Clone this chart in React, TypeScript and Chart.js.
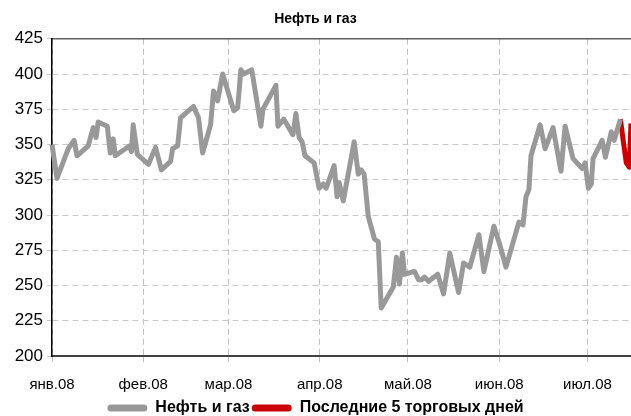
import React, { useEffect, useRef } from "react";
import { Chart, registerables } from "chart.js";

Chart.register(...registerables);

// Day offsets from 1 Jan 2008 and values of the index
const days = [
  0, 1.7, 5.5, 7.5, 8.5, 12.3, 14.0, 15.0, 15.7, 18.8, 19.8, 20.8, 21.5, 26.3, 27.0, 27.6, 29.0,
  32.8, 35.2, 37.2, 40.3, 41.0, 42.7, 43.7, 48.1, 49.8, 51.2, 53.9, 54.9, 56.3, 58.0,
  61.8, 63.1, 64.2, 65.2, 67.9, 71.0, 71.7, 76.1, 76.8, 78.8, 81.9, 82.9, 84.0, 85.0, 86.0, 89.1,
  90.8, 92.2, 93.2, 95.9, 96.9, 97.6, 99.0, 102.7, 104.1, 105.1, 106.1, 107.5, 109.6, 110.9, 111.9,
  116.0, 117.1, 118.1, 119.1, 119.8, 123.2, 124.6, 125.6, 126.6, 128.0, 131.1, 133.1, 135.2, 138.2,
  139.9, 142.0, 145.1, 146.8, 150.2, 152.2, 154.3, 158.7, 160.1, 161.1, 162.1, 162.8, 165.9, 167.6,
  170.3, 173.0, 174.4, 177.1, 180.2, 181.2, 182.3, 183.3, 183.9, 187.0, 188.1, 190.1, 191.1, 193.2,
];
const oilGas = [
  350, 326, 347, 353, 342, 349, 362, 355, 366, 363, 344, 354, 342, 349, 345, 364, 343,
  336, 348, 332, 338, 347, 349, 369, 377, 369, 344, 364, 388, 381, 400,
  374, 376, 403, 400, 403, 363, 375, 392, 363, 368, 357, 372, 355, 352, 342, 337,
  319, 322, 319, 335, 313, 323, 310, 352, 329, 332, 329, 299, 283, 281, 234,
  249, 270, 251, 273, 258, 260, 254, 254, 256, 253, 258, 244, 273, 245,
  266, 263, 286, 260, 292, 279, 263, 295, 293, 313, 318, 342, 364, 347,
  362, 331, 363, 340, 333, 337, 319, 322, 340, 353, 341, 359, 353, 368,
];
const lastDays = [193.2, 194.2, 195.2, 196.2, 196.8];
const lastValues = [368, 352, 337, 334, 365];

const monthStarts = [0, 31, 60, 91, 121, 152, 182];
const monthLabels = ["янв.08", "фев.08", "мар.08", "апр.08", "май.08", "июн.08", "июл.08"];
const yTicks = [200, 225, 250, 275, 300, 325, 350, 375, 400, 425];

const seriesNames = ["Нефть и газ", "Последние 5 торговых дней"];
const seriesColors = ["#999999", "#cc0000"];

const FONT = "'Liberation Sans', Arial, sans-serif";

export default function App() {
  const ref = useRef<HTMLCanvasElement | null>(null);

  useEffect(() => {
    document.body.style.margin = "0";
    const canvas = ref.current;
    if (!canvas) return;
    const xMax = lastDays[lastDays.length - 1];
    const chart = new Chart(canvas, {
      type: "line",
      data: {
        datasets: [
          {
            label: seriesNames[0],
            data: days.map((d, i) => ({ x: d, y: oilGas[i] })),
            borderColor: seriesColors[0],
            backgroundColor: seriesColors[0],
            borderWidth: 5,
            pointRadius: 0,
            tension: 0,
            borderJoinStyle: "round",
          },
          {
            label: seriesNames[1],
            data: lastDays.map((d, i) => ({ x: d, y: lastValues[i] })),
            borderColor: seriesColors[1],
            backgroundColor: seriesColors[1],
            borderWidth: 5,
            pointRadius: 0,
            tension: 0,
            borderJoinStyle: "round",
          },
        ],
      },
      options: {
        responsive: false,
        animation: false,
        clip: false as any,
        layout: { padding: { left: 0, right: 0, top: 0, bottom: -10 } },
        plugins: {
          title: {
            display: true,
            text: "Нефть и газ",
            color: "#000",
            font: { family: FONT, size: 14, weight: "bold" },
            padding: { top: 11, bottom: 11 },
          },
          legend: {
            position: "bottom",
            labels: {
              color: "#000",
              font: { family: FONT, size: 16, weight: "bold" },
              boxWidth: 40,
              boxHeight: 7,
              padding: 2,
              generateLabels: (c: any) =>
                c.data.datasets.map((ds: any, i: number) => ({
                  text: ds.label,
                  fillStyle: ds.borderColor,
                  strokeStyle: ds.borderColor,
                  lineWidth: 0,
                  borderRadius: 3.5,
                  datasetIndex: i,
                  hidden: false,
                  fontColor: "#000",
                })),
            },
          },
          tooltip: { enabled: false },
        },
        scales: {
          x: {
            type: "linear",
            min: 0,
            max: xMax,
            afterBuildTicks: (axis: any) => {
              axis.ticks = monthStarts.map((v) => ({ value: v }));
            },
            afterFit: (axis: any) => {
              axis.height = 42;
            },
            ticks: {
              color: "#000",
              font: { family: FONT, size: 15 },
              padding: 14,
              maxRotation: 0,
              autoSkip: false,
              callback: (v: any) => {
                const i = monthStarts.indexOf(Number(v));
                return i >= 0 ? monthLabels[i] : "";
              },
            },
            grid: {
              color: "#c0c0c0",
              lineWidth: 1,
              tickLength: 6,
              tickColor: "#c0c0c0",
            },
            border: { color: "#404040", width: 2, dash: [6, 4] },
          },
          xTop: {
            type: "linear",
            position: "top",
            min: 0,
            max: xMax,
            ticks: { display: false },
            grid: { display: false, drawTicks: false },
            border: { color: "#606060", width: 1.5 },
            afterFit: (axis: any) => {
              axis.height = 0;
            },
          },
          y: {
            min: 200,
            max: 425,
            afterBuildTicks: (axis: any) => {
              axis.ticks = yTicks.map((v) => ({ value: v }));
            },
            afterFit: (axis: any) => {
              axis.width = 52;
            },
            ticks: {
              color: "#000",
              font: { family: FONT, size: 17 },
              padding: 4,
            },
            grid: {
              color: "#c8c8c8",
              lineWidth: 1,
              tickLength: 5,
              tickColor: "#c8c8c8",
            },
            border: { color: "#000", width: 1.5, dash: [6, 4] },
          },
        },
      } as any,
    });
    return () => chart.destroy();
  }, []);

  return (
    <div style={{ width: 631, height: 416, position: "relative" }}>
      <canvas ref={ref} width={631} height={416} />
    </div>
  );
}
